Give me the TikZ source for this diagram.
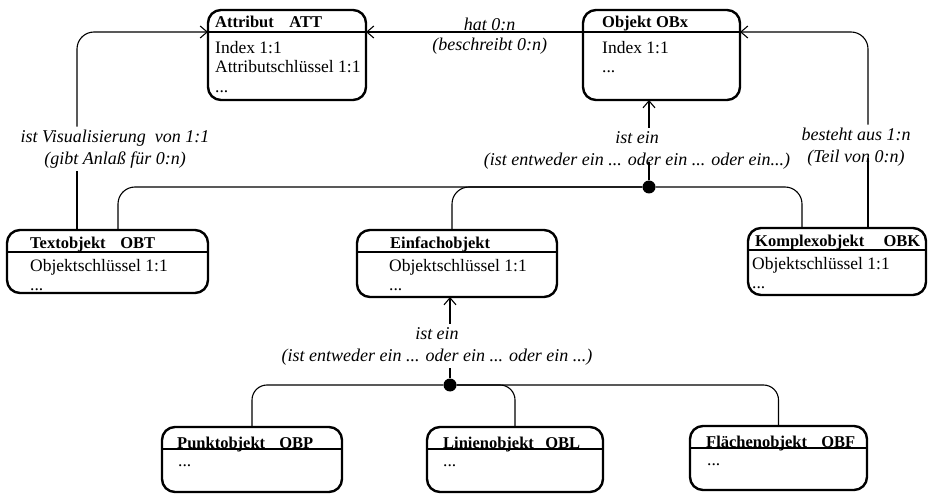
\documentclass[tikz,border=0pt]{standalone}
\usepackage{fontspec}
\setmainfont{Liberation Serif}
\usetikzlibrary{arrows.meta}
\newcommand\schrift{\fontsize{17.5pt}{19.5pt}\selectfont}
\newcommand\kopfschrift{\fontsize{16.5pt}{19.5pt}\selectfont\bfseries}
\newcommand\bezschrift{\fontsize{18pt}{22pt}\selectfont\itshape}

\begin{document}
\begin{tikzpicture}[x=1pt,y=-1pt,
    objekt/.style={draw,line width=2.4pt,rounded corners=13pt,inner sep=0pt,outer sep=0pt},
    kopf/.style={anchor=base west,inner sep=0pt,font=\kopfschrift},
    inhalt/.style={anchor=north west,inner sep=0pt,align=left,font=\schrift},
    trenn/.style={line width=1.2pt},
    bez/.style={font=\bezschrift,align=center,inner sep=3pt},
    verb/.style={line width=1.1pt},
    pfeil/.style={verb,-{Straight Barb[length=7pt,width=12pt]}},
    gabel/.style={circle,fill,inner sep=0pt,minimum size=13pt}]
  \useasboundingbox (0,0) rectangle (929,494);

  % Objekttypen
  \node[objekt,minimum width=158pt,minimum height=90pt] (att) at (287,55) {};
  \node[objekt,minimum width=157pt,minimum height=90pt] (obx) at (661.5,55) {};
  \node[objekt,minimum width=201pt,minimum height=63pt] (obt) at (107.5,261.5) {};
  \node[objekt,minimum width=200pt,minimum height=67pt] (einf) at (457,263.5) {};
  \node[objekt,minimum width=178pt,minimum height=67pt] (obk) at (837,261.5) {};
  \node[objekt,minimum width=180pt,minimum height=65pt] (obp) at (252,459.5) {};
  \node[objekt,minimum width=176pt,minimum height=65pt] (obl) at (515,459.5) {};
  \node[objekt,minimum width=177pt,minimum height=64pt] (obf) at (778.5,458) {};

  \foreach \b in {att,obx,obt,einf,obk,obp,obl,obf}
    \draw[trenn] ([yshift=-22pt]\b.north west) -- ([yshift=-22pt]\b.north east);

  % Kopfzeilen
  \node[kopf,text width=107pt] (attk) at (215,28) {Attribut\hfill ATT};
  \node[kopf,text width=86pt] (obxk) at (602,28) {Objekt\hfill OBx};
  \node[kopf,text width=125pt] (obtk) at (30,249) {Textobjekt\hfill OBT};
  \node[kopf] (einfk) at (390,249) {Einfachobjekt};
  \node[kopf,text width=165pt] (obkk) at (755,247) {Komplexobjekt\hfill OBK};
  \node[kopf,text width=136pt] (obpk) at (177,448) {Punktobjekt\hfill OBP};
  \node[kopf,text width=137pt] (oblk) at (443,448) {Linienobjekt\hfill OBL};
  \node[kopf,text width=149pt] (obfk) at (706,447) {Flächenobjekt\hfill OBF};

  % Inhalte
  \node[inhalt] (attb) at (215,39.5) {\strut Index 1:1\\Attributschlüssel 1:1\\...};
  \node[inhalt] (obxb) at (602,39.5) {\strut Index 1:1\\...};
  \node[inhalt] (obtb) at (30,257.5) {\strut Objektschlüssel 1:1\\...};
  \node[inhalt] (einfb) at (389,257.5) {\strut Objektschlüssel 1:1\\...};
  \node[inhalt] (obkb) at (752,255.5) {\strut Objektschlüssel 1:1\\...};
  \node[inhalt] (obpb) at (178,452.5) {\strut ...};
  \node[inhalt] (oblb) at (443,452.5) {\strut ...};
  \node[inhalt] (obfb) at (707,451.5) {\strut ...};

  % Beziehungen
  \node[bez] (lvis) at (115,149) {ist Visualisierung\ \ von 1:1\\(gibt Anlaß für 0:n)};
  \node[bez] (lbest) at (856,147) {besteht aus 1:n\\(Teil von 0:n)};
  \node[bez] (lein1) at (637,150) {ist ein\\(ist entweder ein ... oder ein ... oder ein...)};
  \node[bez] (lein2) at (437,346) {ist ein\\(ist entweder ein ... oder ein ... oder ein ...)};

  \node[gabel] (gabel1) at (649,187) {};
  \node[gabel] (gabel2) at (450,385) {};

  \draw[pfeil] ([yshift=-22pt]obx.north west)
    -- node[pos=.43,above,inner sep=0.5pt,font=\bezschrift] (lhat) {hat 0:n}
       node[pos=.43,below,inner sep=5pt,font=\bezschrift] (lbeschr) {(beschreibt 0:n)}
    ([yshift=-22pt]att.north east);

  \draw[verb] ([xshift=-30.5pt]obt.north) coordinate (tv) -- (tv |- lvis.south);
  \draw[pfeil,rounded corners=17pt] (tv |- lvis.north) |- ([yshift=-22pt]att.north west);

  \draw[verb] ([xshift=31pt]obk.north) coordinate (kv) -- ([yshift=-11pt]kv |- lbest.center);
  \draw[pfeil,rounded corners=17pt] (kv |- lbest.north) |- ([yshift=-22pt]obx.north east);

  \draw[verb] (gabel1) -- ([yshift=-12pt]gabel1 |- lein1.center);
  \draw[pfeil] (gabel1 |- lein1.north) -- (gabel1 |- obx.south);
  \draw[verb,rounded corners=17pt] ([xshift=10.5pt]obt.north) |- (gabel1) -| ([xshift=-35pt]obk.north);
  \draw[verb,rounded corners=17pt] (gabel1) -| ([xshift=-5pt]einf.north);

  \draw[verb] (gabel2) -- (gabel2 |- lein2.south);
  \draw[pfeil] (gabel2 |- lein2.north) -- (gabel2 |- einf.south);
  \draw[verb,rounded corners=15pt] (obp.north) |- (gabel2) -| (obf.north);
  \draw[verb,rounded corners=15pt] (gabel2) -| (obl.north);
\end{tikzpicture}
\end{document}
